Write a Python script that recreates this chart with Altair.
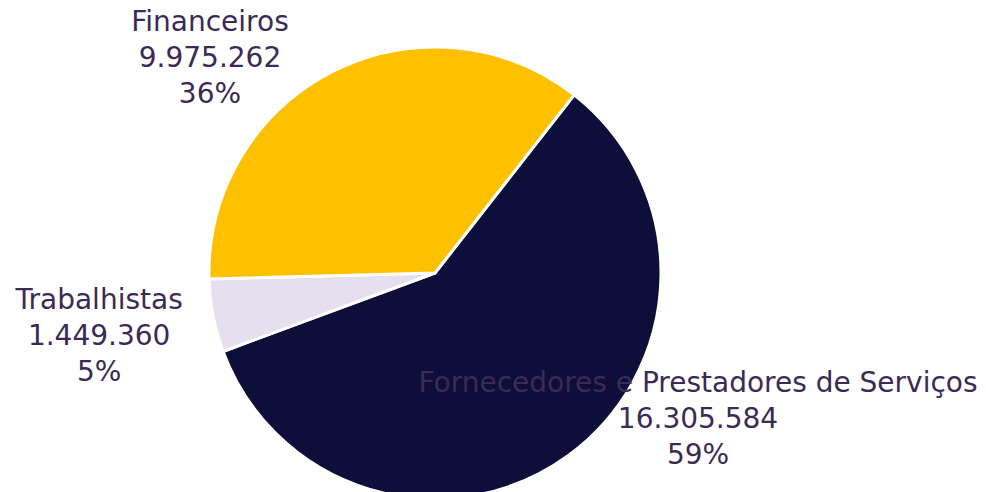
import math
import altair as alt
import pandas as pd

categories = ["Fornecedores e Prestadores de Serviços", "Trabalhistas", "Financeiros"]
values = [16305584, 1449360, 9975262]
value_labels = ["16.305.584", "1.449.360", "9.975.262"]
pct_labels = ["59%", "5%", "36%"]
colors = ["#0E0E3A", "#E6DFF0", "#FFC000"]
order = [0, 1, 2]

df = pd.DataFrame({
    "categoria": categories,
    "valor": values,
    "ordem": order,
    "rotulo": [f"{c}\n{v}\n{p}" for c, v, p in zip(categories, value_labels, pct_labels)],
})

start = math.radians(38)
theta_scale = alt.Scale(range=[start, start + 2 * math.pi])

pie = alt.Chart(df).mark_arc(outerRadius=226, stroke="white", strokeWidth=3).encode(
    theta=alt.Theta("valor:Q", stack=True, scale=theta_scale),
    order=alt.Order("ordem:Q"),
    color=alt.Color("categoria:N", scale=alt.Scale(domain=categories, range=colors), legend=None),
)

FONT = "DejaVu Sans"
TXT = "#3B2A56"

stacked = alt.Chart(df).transform_stack(
    stack="valor", groupby=[], as_=["v0", "v1"], sort=[alt.SortField("ordem", order="ascending")]
).transform_calculate(mid="(datum.v0 + datum.v1) / 2")

def label(cat, radius, dx, dy):
    return stacked.transform_filter(alt.datum.categoria == cat).mark_text(
        radius=radius, dx=dx, dy=dy, font=FONT, fontSize=28, color=TXT,
        lineBreak="\n", lineHeight=36, align="center", baseline="middle",
    ).encode(
        theta=alt.Theta("mid:Q", stack=None, scale=theta_scale),
        text="rotulo:N",
    )

lab_fin = label("Financeiros", 240, -117, -36)
lab_tra = label("Trabalhistas", 340, -2, -36)
lab_for = label("Fornecedores e Prestadores de Serviços", 300, 86, -131)

chart = alt.layer(pie, lab_fin, lab_tra, lab_for).properties(
    width=854, height=528, padding=0,
).configure_view(stroke=None)

chart.save("out.html", embed_options={"renderer": "svg", "actions": False})
